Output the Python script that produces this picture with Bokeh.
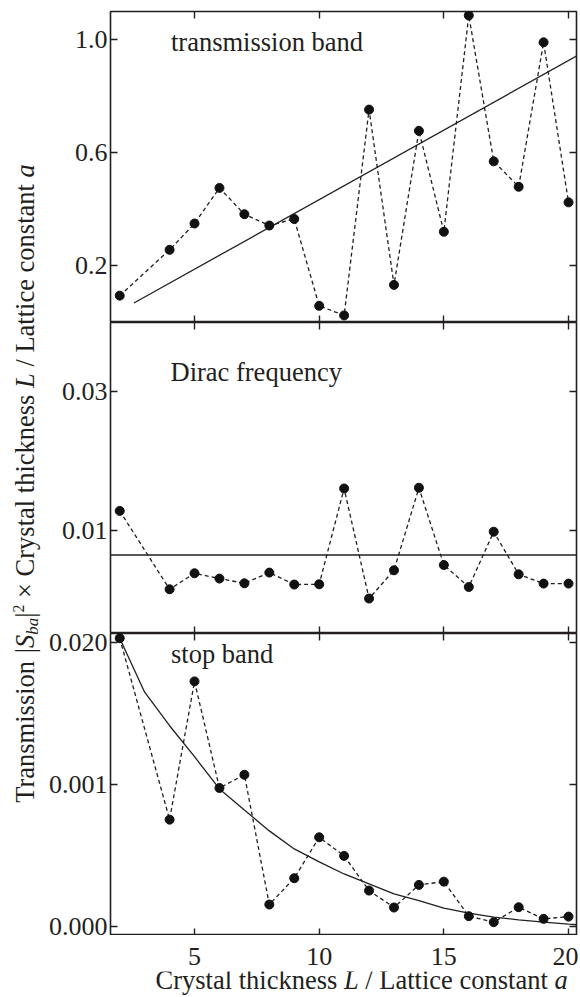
from bokeh.plotting import figure
from bokeh.models import Range1d, FixedTicker, LinearAxis, Label
from bokeh.layouts import row, column
from bokeh.embed import file_html
from bokeh.resources import INLINE

# ---------------- data ----------------
thickness = [2, 4, 5, 6, 7, 8, 9, 10, 11, 12, 13, 14, 15, 16, 17, 18, 19, 20]

trans_band = [0.094, 0.256, 0.349, 0.475, 0.382, 0.342, 0.365, 0.058, 0.024,
              0.752, 0.132, 0.677, 0.320, 1.085, 0.569, 0.479, 0.990, 0.424]
trans_fit_x = [2.57, 20.5]
trans_fit_y = [0.068, 0.950]

dirac = [0.0128, 0.00153, 0.00383, 0.00307, 0.00239, 0.00393, 0.00221, 0.00225,
         0.01603, 0.00020, 0.00426, 0.01613, 0.00502, 0.00186, 0.00981, 0.00368,
         0.00235, 0.00235]
dirac_fit_x = [1.5, 20.5]
dirac_fit_y = [0.00646, 0.00646]

stop = [0.02031, 0.00754, 0.01727, 0.00977, 0.01070, 0.00157, 0.00342, 0.00630,
        0.00499, 0.00255, 0.00136, 0.00295, 0.00318, 0.00075, 0.00033, 0.00138,
        0.00056, 0.00072]
stop_fit_x = [2, 3, 4, 5, 6, 7, 8, 9, 10, 11, 12, 13, 14, 15, 16, 17, 18, 19, 20, 20.4]
stop_fit_y = [0.02031, 0.01651, 0.01415, 0.01197, 0.00970, 0.00822, 0.00675,
              0.00548, 0.00457, 0.00372, 0.00302, 0.00232, 0.00185, 0.00131,
              0.00096, 0.00068, 0.00049, 0.00033, 0.00019, 0.00014]

x_ticks = [5, 10, 15, 20]
trans_ticks = [0.2, 0.6, 1.0]
trans_tick_labels = ["0.2", "0.6", "1.0"]
dirac_ticks = [0.01, 0.03]
dirac_tick_labels = ["0.01", "0.03"]
stop_ticks = [0.0, 0.01, 0.02]
stop_tick_labels = ["0.000", "0.001", "0.020"]

panel_titles = ["transmission band", "Dirac frequency", "stop band"]

# ---------------- style / layout ----------------
FONT = "Liberation Serif"
FS = 26.5
TICK_FS = "26px"
INK = "#231F20"
LABEL_W = 42          # strip holding the rotated y title
LEFT_B = 68           # frame left edge at 110 px
FRAME_W = 466
TOTAL_H = 996
TOP_B = 11
H1, H2, H3 = 311, 311, 302
XLAB_B = 36           # room for the x tick labels (above the title frame)
XLAB_STANDOFF = 7
BASE_SHIFT = 0.34     # observed offset of the alphabetic baseline (em)

frame_bot1 = TOP_B + H1
frame_bot2 = frame_bot1 + H2
frame_bot3 = frame_bot2 + H3

x_range = Range1d(1.63, 20.32)


def style_axis(ax, ticks, labels=None, show_labels=False, standoff=3, tick_len=7):
    ax.ticker = FixedTicker(ticks=ticks)
    ax.axis_line_color = None
    ax.major_tick_in = tick_len
    ax.major_tick_out = 0
    ax.major_tick_line_color = INK if tick_len else None
    ax.major_tick_line_width = 1.4
    ax.minor_tick_line_color = None
    if show_labels:
        ax.major_label_text_font = FONT
        ax.major_label_text_font_size = TICK_FS
        ax.major_label_text_color = INK
        ax.major_label_standoff = standoff
        if labels is not None:
            ax.major_label_overrides = {t: l for t, l in zip(ticks, labels)}
    else:
        ax.major_label_overrides = {t: "" for t in ticks}
        ax.major_label_text_font_size = "1px"
        ax.major_label_text_color = None
        ax.major_label_standoff = 0


def make_panel(yr, yticks, ylabels, frame_h, top_b=0):
    p = figure(frame_width=FRAME_W, frame_height=frame_h, x_range=x_range,
               y_range=yr, toolbar_location=None, output_backend="svg",
               min_border_left=LEFT_B, min_border_right=2,
               min_border_top=top_b, min_border_bottom=0)
    p.grid.visible = False
    p.outline_line_color = INK
    p.outline_line_width = 1.6
    p.background_fill_color = "white"
    p.border_fill_color = "white"
    style_axis(p.xaxis[0], x_ticks)
    style_axis(p.yaxis[0], yticks, ylabels, show_labels=True, standoff=3)
    top = LinearAxis()
    style_axis(top, x_ticks)
    p.add_layout(top, "above")
    right = LinearAxis()
    style_axis(right, yticks)
    p.add_layout(right, "right")
    return p


def text_label(text, x, y, size, italic=False, angle=0):
    return Label(x=x, y=y, x_units="screen", y_units="screen", text=text,
                 text_font=FONT, text_font_size=f"{size:.1f}px",
                 text_font_style="italic" if italic else "normal",
                 text_color=INK, text_align="left", text_baseline="alphabetic",
                 angle=angle, angle_units="deg")


def add_series(p, ys, fx, fy, title, title_x, title_base_from_bottom):
    p.line(fx, fy, line_color=INK, line_width=1.3)
    p.line(thickness, ys, line_color=INK, line_width=1.3, line_dash="4 3")
    p.scatter(thickness, ys, size=9, color="#111111")
    p.add_layout(text_label(title, title_x, title_base_from_bottom + BASE_SHIFT * FS, FS))


p1 = make_panel(Range1d(-0.001, 1.099), trans_ticks, trans_tick_labels, H1, top_b=TOP_B)
add_series(p1, trans_band, trans_fit_x, trans_fit_y, panel_titles[0], 60.5, frame_bot1 - 50.7)

p2 = make_panel(Range1d(-0.00483, 0.0399), dirac_ticks, dirac_tick_labels, H2)
add_series(p2, dirac, dirac_fit_x, dirac_fit_y, panel_titles[1], 60.0, frame_bot2 - 380.7)

p3 = make_panel(Range1d(-0.00061, 0.02064), stop_ticks, stop_tick_labels, H3)
add_series(p3, stop, stop_fit_x, stop_fit_y, panel_titles[2], 60.5, frame_bot3 - 662.3)

# ---------------- rich-text axis titles ----------------
REG = {' ': 250, 'T': 611, 'r': 333, 'a': 444, 'n': 500, 's': 389, 'm': 778,
       'i': 278, 'o': 500, '|': 200, 'C': 667, 'y': 500, 't': 278, 'l': 278,
       'h': 500, 'c': 444, 'k': 500, 'e': 444, '/': 278, 'L': 611, '×': 564,
       '2': 500, 'b': 500}
ITA = {' ': 250, 'S': 500, 'b': 500, 'a': 500, 'L': 556}


def adv(txt, italic, size):
    tab = ITA if italic else REG
    return sum(tab[c] for c in txt) / 1000.0 * size


def rich_labels(pieces, start, baseline, vertical):
    out = []
    pos = start
    for txt, italic, scale, shift in pieces:
        size = FS * scale
        lead = len(txt) - len(txt.lstrip(' '))
        core = txt.strip(' ')
        off = pos + adv(' ' * lead, italic, size)
        comp = BASE_SHIFT * size
        if vertical:
            # baseline measured as x (to the right = below the text)
            out.append(text_label(core, baseline + shift - comp, off, size, italic, angle=90))
        else:
            # baseline measured upward from the frame bottom
            out.append(text_label(core, off, baseline - shift + comp, size, italic))
        pos += adv(txt, italic, size)
    return out


y_title = [("Transmission ", False, 1, 0), ("|", False, 1, 0), ("S", True, 1, 0),
           ("ba", True, 0.64, 4.7), ("|", False, 1, 0), ("2", False, 0.6, -10),
           (" × ", False, 1, 0), ("Crystal thickness ", False, 1, 0),
           ("L", True, 1, 0), (" / Lattice constant ", False, 1, 0), ("a", True, 1, 0)]
x_title = [("Crystal thickness ", False, 1, 0), ("L", True, 1, 0),
           (" / Lattice constant ", False, 1, 0), ("a", True, 1, 0)]

label_fig = figure(frame_width=LABEL_W, frame_height=TOTAL_H, toolbar_location=None,
                   output_backend="svg", x_axis_type=None, y_axis_type=None,
                   min_border=0, x_range=Range1d(0, 1), y_range=Range1d(0, 1))
label_fig.grid.visible = False
label_fig.outline_line_color = None
for lb in rich_labels(y_title, TOTAL_H - 802.3, 33.3, True):
    label_fig.add_layout(lb)

# bottom strip: x tick labels (axis above its frame) + rich x title inside the frame
title_h = TOTAL_H - (frame_bot3 + 1) - XLAB_B
title_fig = figure(frame_width=FRAME_W, frame_height=title_h, x_range=x_range,
                   toolbar_location=None, output_backend="svg",
                   x_axis_location="above", y_axis_type=None, min_border=0,
                   min_border_left=LEFT_B, min_border_right=2, min_border_top=XLAB_B,
                   y_range=Range1d(0, 1))
title_fig.grid.visible = False
title_fig.outline_line_color = None
style_axis(title_fig.xaxis[0], x_ticks, show_labels=True, standoff=XLAB_STANDOFF, tick_len=0)
for lb in rich_labels(x_title, 155 - (LABEL_W + LEFT_B), TOTAL_H - 990, False):
    title_fig.add_layout(lb)

layout = row(label_fig, column(p1, p2, p3, title_fig))

with open("out.html", "w") as f:
    f.write(file_html(layout, INLINE))
